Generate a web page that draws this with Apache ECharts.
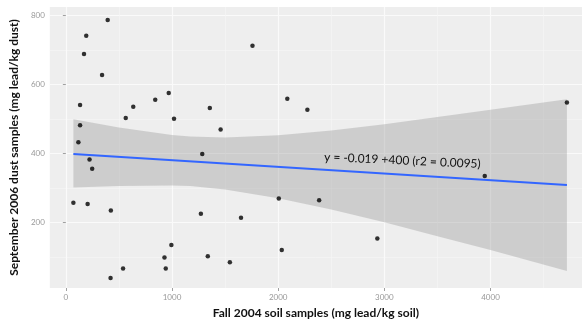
<!DOCTYPE html>
<html><head><meta charset="utf-8">
<script src="https://cdn.jsdelivr.net/npm/echarts@6/dist/echarts.min.js"></script>
<style>html,body{margin:0;padding:0;background:#fff}#c{width:585px;height:324px}</style>
</head><body><div id="c"></div>
<script>
// Fall 2004 soil lead (mg/kg) vs September 2006 dust lead (mg/kg)
const soilX = [394,192,171,341,134,564,635,842,969,1019,134,118,1285,223,248,71,205,424,1272,994,929,539,941,421,1758,1356,1458,2086,2275,1650,2006,2386,1337,1545,2034,2934,3946,4720];
const dustY = [787,742,689,628,541,503,536,556,576,501,482,433,399,383,356,258,254,235,226,135,99,67,67,40,713,532,470,559,527,214,270,265,103,85,121,154,335,548];
const xMajorTicks = [0,1000,2000,3000,4000];
const xMinorTicks = [500,1500,2500,3500,4500];
const yMajorTicks = [200,400,600,800];
const yMinorTicks = [100,300,500,700];
const fitX = [71,4720];
const fitY = [399,309];
const bandX =     [71, 500, 1000,1172,1500,2000,2500,3000,3500,4000,4720];
const bandUpper = [500,476, 454, 450, 447, 453, 467, 485, 506, 527, 558];
const bandLower = [302,306, 308, 306, 296, 271, 238, 201, 161, 121, 60];
const annotation = 'y = -0.019 +400 (r2 = 0.0095)';
const annotationAt = [3170,380];
const xTitle = 'Fall 2004 soil samples (mg lead/kg soil)';
const yTitle = 'September 2006 dust samples (mg lead/kg dust)';

const X_MIN=-151, X_MAX=4862, Y_MIN=10.7, Y_MAX=825;
const chart = echarts.init(document.getElementById('c'), null, {renderer:'canvas'});
const font = 'Lato';
const plain = v => String(Math.round(v));
const option = {
  animation:false,
  backgroundColor:'#ffffff',
  grid:{left:42,right:3,top:7,bottom:36,show:true,backgroundColor:'#EEEEEE',borderWidth:0},
  xAxis:[{
    type:'value',min:X_MIN,max:X_MAX,position:'bottom',
    name:xTitle,nameLocation:'middle',nameGap:19,
    nameTextStyle:{color:'#111111',fontSize:12,fontFamily:font,fontWeight:'bold'},
    axisLine:{show:false},
    axisTick:{show:true,customValues:xMajorTicks,length:3,lineStyle:{color:'#a0a0a0'}},
    axisLabel:{customValues:xMajorTicks,formatter:plain,color:'#999999',fontSize:8,fontFamily:font,margin:5},
    splitLine:{show:true,lineStyle:{color:'#fafafa',width:1.2}}
  },{
    type:'value',min:X_MIN,max:X_MAX,position:'bottom',
    axisLine:{show:false},axisLabel:{show:false},
    axisTick:{show:false,customValues:xMinorTicks},
    splitLine:{show:true,lineStyle:{color:'#f5f5f5',width:0.7}}
  }],
  yAxis:[{
    type:'value',min:Y_MIN,max:Y_MAX,position:'left',
    name:yTitle,nameLocation:'middle',nameGap:21,nameRotate:90,
    nameTextStyle:{color:'#111111',fontSize:12,fontFamily:font,fontWeight:'bold'},
    axisLine:{show:false},
    axisTick:{show:true,customValues:yMajorTicks,length:3,lineStyle:{color:'#a0a0a0'}},
    axisLabel:{customValues:yMajorTicks,formatter:plain,color:'#999999',fontSize:8,fontFamily:font,margin:5},
    splitLine:{show:true,lineStyle:{color:'#fafafa',width:1.2}}
  },{
    type:'value',min:Y_MIN,max:Y_MAX,position:'left',
    axisLine:{show:false},axisLabel:{show:false},
    axisTick:{show:false,customValues:yMinorTicks},
    splitLine:{show:true,lineStyle:{color:'#f5f5f5',width:0.7}}
  }],
  series:[
    {
      type:'custom',xAxisIndex:0,yAxisIndex:0,
      data:[[bandX[0],bandLower[0]]],
      renderItem:function(params,api){
        const pts=[];
        for(let i=0;i<bandX.length;i++) pts.push(api.coord([bandX[i],bandUpper[i]]));
        for(let i=bandX.length-1;i>=0;i--) pts.push(api.coord([bandX[i],bandLower[i]]));
        return {type:'polygon',shape:{points:pts},style:{fill:'rgba(153,153,153,0.38)'}};
      },
      z:1
    },
    {
      type:'scatter',xAxisIndex:0,yAxisIndex:0,
      data:soilX.map((x,i)=>[x,dustY[i]]),
      symbol:'circle',symbolSize:4.5,
      itemStyle:{color:'#000000'},
      z:3
    },
    {
      type:'line',xAxisIndex:0,yAxisIndex:0,
      data:fitX.map((x,i)=>[x,fitY[i]]),
      showSymbol:false,
      lineStyle:{color:'#3366FF',width:2},
      z:4,
      markPoint:{
        symbol:'circle',symbolSize:0,
        data:[{coord:annotationAt}],
        label:{show:true,position:'inside',formatter:annotation,color:'#111111',fontSize:12,fontFamily:font,rotate:-2.6},
        silent:true
      }
    }
  ]
};
chart.setOption(option);
</script>
</body></html>
